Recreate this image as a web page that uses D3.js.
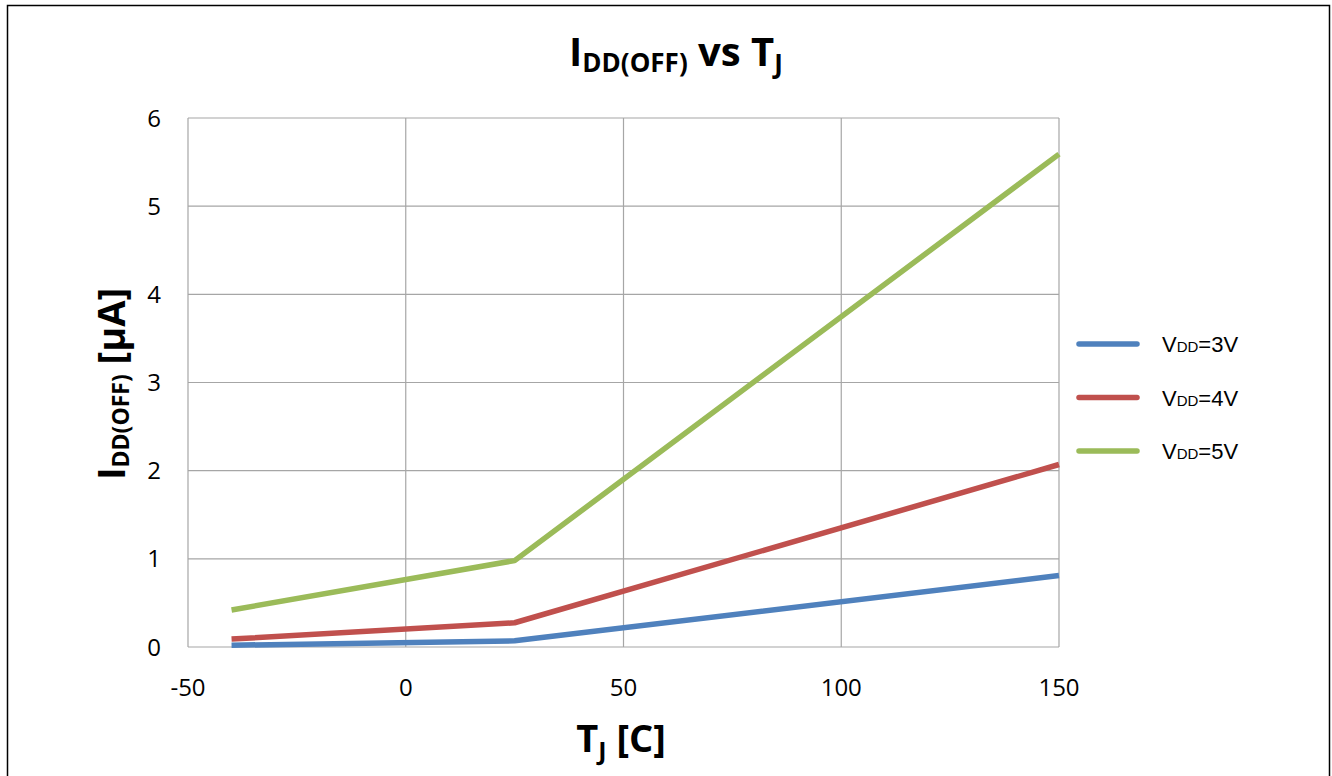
<!DOCTYPE html>
<html><head><meta charset="utf-8">
<script src="https://cdn.jsdelivr.net/npm/d3@7"></script>
<style>body{margin:0;background:#fff}svg{display:block}</style>
</head><body>
<svg id="c" width="1332" height="776"></svg>
<script>
const temps = [-40, 25, 150];
const seriesNames = ["3V", "4V", "5V"];
const vdd3 = [0.02, 0.07, 0.81];
const vdd4 = [0.09, 0.275, 2.07];
const vdd5 = [0.42, 0.98, 5.59];
const colors = ["#4F81BD", "#C0504D", "#9BBB59"];
const xTicks = [-50, 0, 50, 100, 150];
const yTicks = [0, 1, 2, 3, 4, 5, 6];

const svg = d3.select("#c");
const L = 188, R = 1059, T = 118, B = 647;
const x = d3.scaleLinear().domain([-50, 150]).range([L, R]);
const y = d3.scaleLinear().domain([0, 6]).range([B, T]);

svg.append("rect").attr("x", 7.5).attr("y", 5.5).attr("width", 1322).attr("height", 780)
  .attr("fill", "#fff").attr("stroke", "#000").attr("stroke-width", 1.5);

// grid
const g = svg.append("g");
g.selectAll(".gx").data(xTicks).join("line")
  .attr("x1", d => x(d)).attr("x2", d => x(d)).attr("y1", T).attr("y2", B)
  .attr("stroke", "#a6a6a6").attr("stroke-width", 1.2);
g.selectAll(".gy").data(yTicks).join("line")
  .attr("x1", L).attr("x2", R).attr("y1", d => y(d)).attr("y2", d => y(d))
  .attr("stroke", "#a6a6a6").attr("stroke-width", 1.2);

const font = "'Open Sans', 'Liberation Sans', sans-serif";
// tick labels
svg.selectAll(".yl").data(yTicks).join("text")
  .attr("x", 161).attr("y", d => y(d) + 8.5).attr("text-anchor", "end")
  .attr("font-family", font).attr("font-size", 24).attr("fill", "#000").text(d => d);
svg.selectAll(".xl").data(xTicks).join("text")
  .attr("x", d => x(d)).attr("y", 696).attr("text-anchor", "middle")
  .attr("font-family", font).attr("font-size", 24).attr("fill", "#000").text(d => d);

// lines
const all = [vdd3, vdd4, vdd5];
const line = d3.line().x((d, i) => x(temps[i])).y(d => y(d));
svg.selectAll(".ser").data(all).join("path")
  .attr("d", d => line(d)).attr("fill", "none")
  .attr("stroke", (d, i) => colors[i]).attr("stroke-width", 5.5)
  .attr("stroke-linejoin", "round");

// legend
const lg = svg.append("g");
seriesNames.forEach((n, i) => {
  const yy = 344 + i * 53.5;
  lg.append("line").attr("x1", 1079).attr("x2", 1137).attr("y1", yy).attr("y2", yy)
    .attr("stroke", colors[i]).attr("stroke-width", 5.5).attr("stroke-linecap", "round");
  const t = lg.append("text").attr("x", 1162).attr("y", yy + 8)
    .attr("font-family", "'Liberation Sans', Arial, sans-serif").attr("font-size", 22).attr("fill", "#000");
  t.append("tspan").text("V");
  t.append("tspan").attr("font-size", 15).text("DD");
  t.append("tspan").text("=" + n);
});

// title
const title = svg.append("text").attr("x", 676).attr("y", 66).attr("text-anchor", "middle")
  .attr("font-family", font).attr("font-weight", "bold").attr("font-size", 40).attr("fill", "#000");
title.append("tspan").text("I");
title.append("tspan").attr("font-size", 26).attr("dy", 6).text("DD(OFF)");
title.append("tspan").attr("dy", -6).text(" vs T");
title.append("tspan").attr("font-size", 26).attr("dy", 7).text("J");

// x axis title
const xt = svg.append("text").attr("x", 621).attr("y", 752).attr("text-anchor", "middle")
  .attr("font-family", font).attr("font-weight", "bold").attr("font-size", 38).attr("fill", "#000");
xt.append("tspan").text("T");
xt.append("tspan").attr("font-size", 25).attr("dy", 8).text("J");
xt.append("tspan").attr("dy", -8).text(" [C]");

// y axis title
const yt = svg.append("text").attr("transform", "translate(125,384) rotate(-90)").attr("text-anchor", "middle")
  .attr("font-family", font).attr("font-weight", "bold").attr("font-size", 38).attr("fill", "#000");
yt.append("tspan").text("I");
yt.append("tspan").attr("font-size", 23).attr("dy", 4).text("DD(OFF)");
yt.append("tspan").attr("dy", -4).text(" [µA]");
</script>
</body></html>
